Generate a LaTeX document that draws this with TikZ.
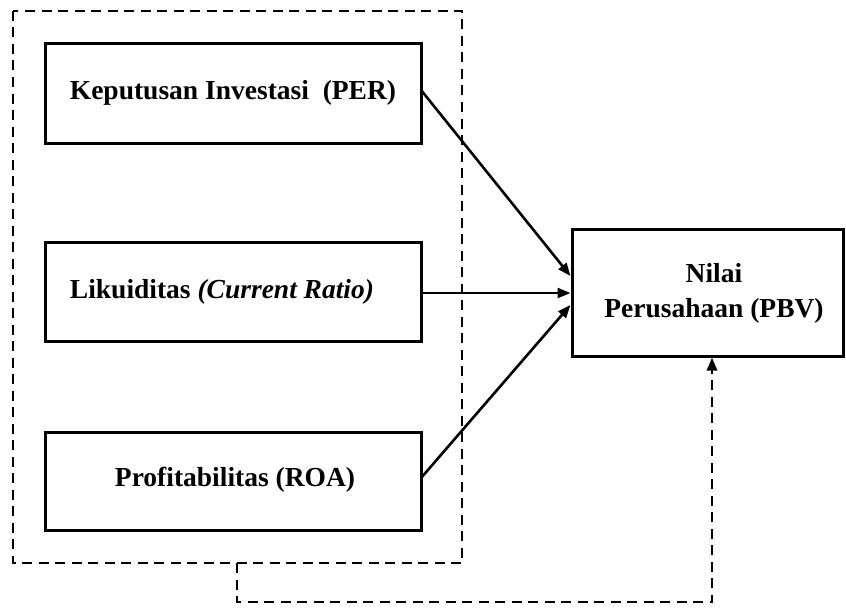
\documentclass[tikz,border=0pt]{standalone}
\usepackage{fontspec}
\setmainfont{Liberation Serif}
\usetikzlibrary{arrows.meta}
\begin{document}
\begin{tikzpicture}[x=1pt,y=-1pt,
  box/.style={draw,line width=3pt,inner sep=0pt},
  lbl/.style={font=\fontsize{27.5}{35}\selectfont\bfseries,align=center,inner sep=0pt},
  dsh/.style={line width=2.8pt,dash pattern=on 10pt off 6.5pt},
  tip/.style={-{Triangle[length=13pt,width=10pt]}},
  arr/.style={line width=2.6pt,tip}]
\useasboundingbox (0,0) rectangle (846,610);
\draw[dsh] (13,11) rectangle (462,563);
\node[box,minimum width=376pt,minimum height=99pt] (per) at (233,93.5) {};
\node[lbl] at (233,93) {Keputusan Investasi\ \ (PER)};
\node[box,minimum width=376pt,minimum height=99pt] (cr) at (233,291.5) {};
\node[lbl] at (222,292) {Likuiditas \textit{(Current Ratio)}};
\node[box,minimum width=376pt,minimum height=98pt] (roa) at (233,481) {};
\node[lbl] at (235,480) {Profitabilitas (ROA)};
\node[box,minimum width=271pt,minimum height=127pt] (pbv) at (707.5,292.5) {};
\node[lbl] at (714,293) {Nilai\\Perusahaan (PBV)};
\coordinate (p1) at (421,90);
\coordinate (p3) at (421,478);
\draw[arr] (p1) -- (pbv.west |- 0,276);
\draw[arr] (cr.east |- 0,293) -- (pbv.west |- 0,293);
\draw[arr] (p3) -- (pbv.west |- 0,305);
\coordinate (b1) at (237,563);
\coordinate (b2) at (237,602);
\coordinate (b3) at (712,602);
\draw[dsh,tip] (b1) -- (b2) -- (b3) -- (pbv.south -| b3);
\end{tikzpicture}
\end{document}
